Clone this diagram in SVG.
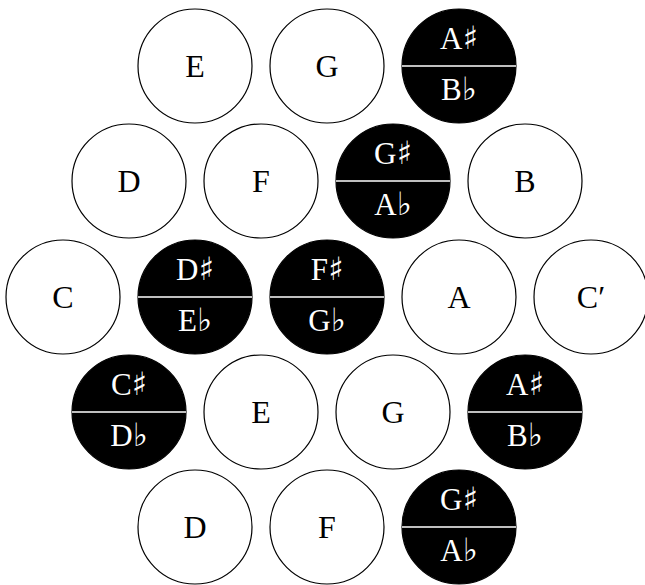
<svg xmlns="http://www.w3.org/2000/svg" width="645" height="585" viewBox="0 0 645 585">
  <style>
    .key circle { stroke: #000; stroke-width: 1.2; }
    .white circle { fill: #fff; }
    .black circle { fill: #000; }
    .black line { stroke: #fff; stroke-width: 1.6; }
    text { font-family: "Liberation Serif", "DejaVu Serif", serif; font-size: 32px; text-anchor: middle; }
    .white text { fill: #000; }
    .black text { fill: #fff; font-size: 31px; }
    .acc { font-family: "DejaVu Serif", "DejaVu Sans", serif; font-size: 32px; }
  </style>
  <rect width="645" height="585" fill="#fff"/>

  <g id="connectors"></g>

  <!-- row 1 -->
  <g id="r1-E" class="key white" transform="translate(195,66)"><circle r="57"/><text y="11">E</text></g>
  <g id="r1-G" class="key white" transform="translate(327,66)"><circle r="57"/><text y="11">G</text></g>
  <g id="r1-AsBb" class="key black" transform="translate(459,66)"><circle r="57"/><line x1="-57" y1="0" x2="57" y2="0"/><text y="-17">A<tspan class="acc">♯</tspan></text><text y="34">B<tspan class="acc">♭</tspan></text></g>

  <!-- row 2 -->
  <g id="r2-D" class="key white" transform="translate(129,181)"><circle r="57"/><text y="11">D</text></g>
  <g id="r2-F" class="key white" transform="translate(261,181)"><circle r="57"/><text y="11">F</text></g>
  <g id="r2-GsAb" class="key black" transform="translate(393,181)"><circle r="57"/><line x1="-57" y1="0" x2="57" y2="0"/><text y="-17">G<tspan class="acc">♯</tspan></text><text y="34">A<tspan class="acc">♭</tspan></text></g>
  <g id="r2-B" class="key white" transform="translate(525,181)"><circle r="57"/><text y="11">B</text></g>

  <!-- row 3 -->
  <g id="r3-C" class="key white" transform="translate(63,297)"><circle r="57"/><text y="11">C</text></g>
  <g id="r3-DsEb" class="key black" transform="translate(195,297)"><circle r="57"/><line x1="-57" y1="0" x2="57" y2="0"/><text y="-17">D<tspan class="acc">♯</tspan></text><text y="34">E<tspan class="acc">♭</tspan></text></g>
  <g id="r3-FsGb" class="key black" transform="translate(327,297)"><circle r="57"/><line x1="-57" y1="0" x2="57" y2="0"/><text y="-17">F<tspan class="acc">♯</tspan></text><text y="34">G<tspan class="acc">♭</tspan></text></g>
  <g id="r3-A" class="key white" transform="translate(459,297)"><circle r="57"/><text y="11">A</text></g>
  <g id="r3-C2" class="key white" transform="translate(591,297)"><circle r="57"/><text y="11">C′</text></g>

  <!-- row 4 -->
  <g id="r4-CsDb" class="key black" transform="translate(129,412)"><circle r="57"/><line x1="-57" y1="0" x2="57" y2="0"/><text y="-17">C<tspan class="acc">♯</tspan></text><text y="34">D<tspan class="acc">♭</tspan></text></g>
  <g id="r4-E" class="key white" transform="translate(261,412)"><circle r="57"/><text y="11">E</text></g>
  <g id="r4-G" class="key white" transform="translate(393,412)"><circle r="57"/><text y="11">G</text></g>
  <g id="r4-AsBb" class="key black" transform="translate(525,412)"><circle r="57"/><line x1="-57" y1="0" x2="57" y2="0"/><text y="-17">A<tspan class="acc">♯</tspan></text><text y="34">B<tspan class="acc">♭</tspan></text></g>

  <!-- row 5 -->
  <g id="r5-D" class="key white" transform="translate(195,527)"><circle r="57"/><text y="11">D</text></g>
  <g id="r5-F" class="key white" transform="translate(327,527)"><circle r="57"/><text y="11">F</text></g>
  <g id="r5-GsAb" class="key black" transform="translate(459,527)"><circle r="57"/><line x1="-57" y1="0" x2="57" y2="0"/><text y="-17">G<tspan class="acc">♯</tspan></text><text y="34">A<tspan class="acc">♭</tspan></text></g>
</svg>
